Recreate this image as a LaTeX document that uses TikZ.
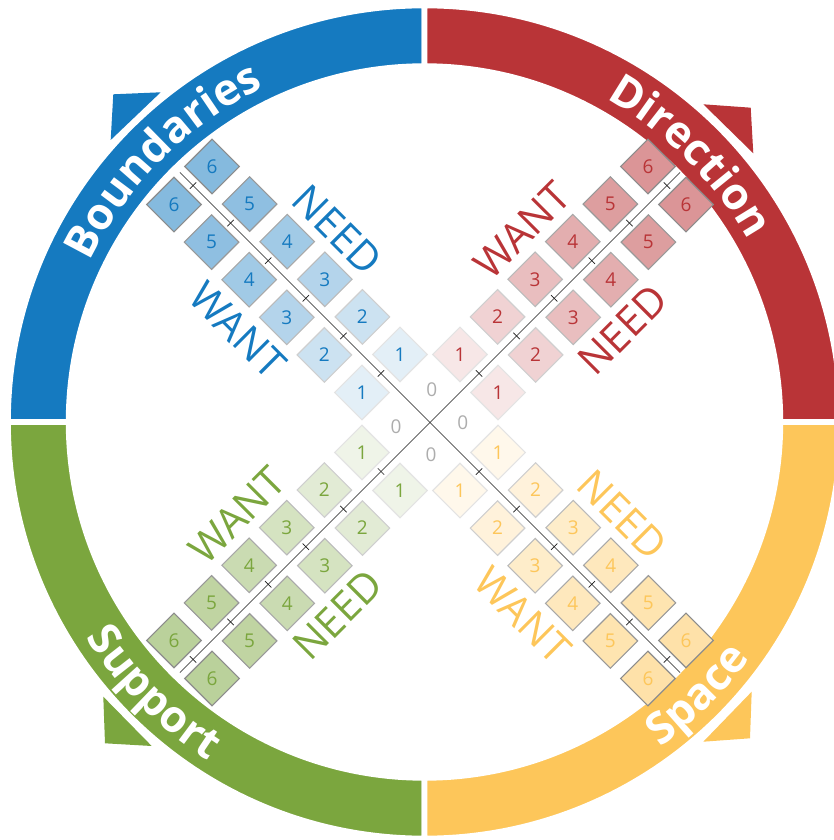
\documentclass[tikz,border=0pt]{standalone}
\usepackage{fontspec}
\setmainfont{Open Sans}
\usetikzlibrary{shapes.geometric,decorations.text}
\definecolor{bndcol}{RGB}{21,122,192}
\definecolor{dircol}{RGB}{185,52,55}
\definecolor{supcol}{RGB}{123,166,62}
\definecolor{spccol}{RGB}{253,198,90}
\tikzset{ring text/.style={decorate, decoration={text along path, text align=center, text color=white,
  text={|\bfseries\fontsize{44pt}{44pt}\selectfont|#1}}}}

\begin{document}
\begin{tikzpicture}[x=1pt,y=1pt]
\tikzstyle{every node}=[inner sep=0pt, font=\fontsize{19pt}{19pt}\selectfont]
\tikzstyle{cell}=[diamond, aspect=1, minimum width=55pt, minimum height=55pt, line width=1.1pt]
\tikzstyle{axis}=[line width=0.7pt, black!90]
\tikzstyle{side}=[font=\fontsize{41pt}{41pt}\selectfont]
\tikzstyle{zero}=[text=black!32]
\tikzstyle{sector}=[draw=white, line width=5.6pt]
\useasboundingbox (-424.5,-418) rectangle (409.5,422);
% arrow heads
\fill[bndcol] (-311.2,327.7) -- (-263.8,329.7) -- (-313.8,282) -- cycle;
\fill[dircol] (278.8,317.7) -- (326.2,314.3) -- (328.8,268.7) -- cycle;
\fill[supcol] (-321.2,-274.7) -- (-319.5,-321.3) -- (-272.8,-324) -- cycle;
\fill[spccol] (327.2,-269.7) -- (325.5,-316.3) -- (278.8,-319.7) -- cycle;
% ring
\fill[bndcol, sector] (90:416.5) arc[start angle=90, end angle=180, radius=416.5] -- (180:355.9) arc[start angle=180, end angle=90, radius=355.9] -- cycle;
\fill[dircol, sector] (0:416.5) arc[start angle=0, end angle=90, radius=416.5] -- (90:355.9) arc[start angle=90, end angle=0, radius=355.9] -- cycle;
\fill[supcol, sector] (180:416.5) arc[start angle=180, end angle=270, radius=416.5] -- (270:355.9) arc[start angle=270, end angle=180, radius=355.9] -- cycle;
\fill[spccol, sector] (270:416.5) arc[start angle=270, end angle=360, radius=416.5] -- (360:355.9) arc[start angle=360, end angle=270, radius=355.9] -- cycle;
\path[ring text=Boundaries] (180:370.8) arc[start angle=180, end angle=90, radius=370.8];
\path[ring text=Direction] (90:370.8) arc[start angle=90, end angle=0, radius=370.8];
\path[ring text=Support] (180:401.6) arc[start angle=180, end angle=270, radius=401.6];
\path[ring text=Space] (270:401.6) arc[start angle=270, end angle=360, radius=401.6];
% arms
\foreach \arm/\ang/\col/\rot/\lblp/\lblm in {bnd/135/bndcol/-45/WANT/NEED, dir/45/dircol/45/WANT/NEED,
    sup/225/supcol/45/NEED/WANT, spc/315/spccol/-45/NEED/WANT} {
  \begin{scope}[shift={(5.5,-0.5)}, rotate=\ang]
    \coordinate (\arm-end) at (353.6,0);
    \foreach \n/\f/\g in {1/12/11, 2/22/19, 3/32/27, 4/40/34, 5/48/40, 6/52/45} {
      \pgfmathsetmacro\s{69.3+53.17*(\n-1)}
      \draw[axis] (\s,-4.5) -- (\s,4.5);
      \node (\arm-p\n) [cell, fill=\col!\f!white, draw=black!\g!white, text=\col] at (\s,26.9) {\n};
      \node (\arm-m\n) [cell, fill=\col!\f!white, draw=black!\g!white, text=\col] at (\s,-26.9) {\n};
    }
    \node (\arm-lp) [side, rotate=\rot, text=\col] at (201.5,70.7) {\lblp};
    \node (\arm-lm) [side, rotate=\rot, text=\col] at (201.5,-70.7) {\lblm};
  \end{scope}
}
\draw[axis] (bnd-end) -- (spc-end);
\draw[axis] (dir-end) -- (sup-end);
\node (z-n) [zero] at (7.2,32.7) {0};
\node (z-w) [zero] at (-28.5,-4.7) {0};
\node (z-e) [zero] at (38.2,-0.7) {0};
\node (z-s) [zero] at (6.5,-33) {0};
\end{tikzpicture}
\end{document}
